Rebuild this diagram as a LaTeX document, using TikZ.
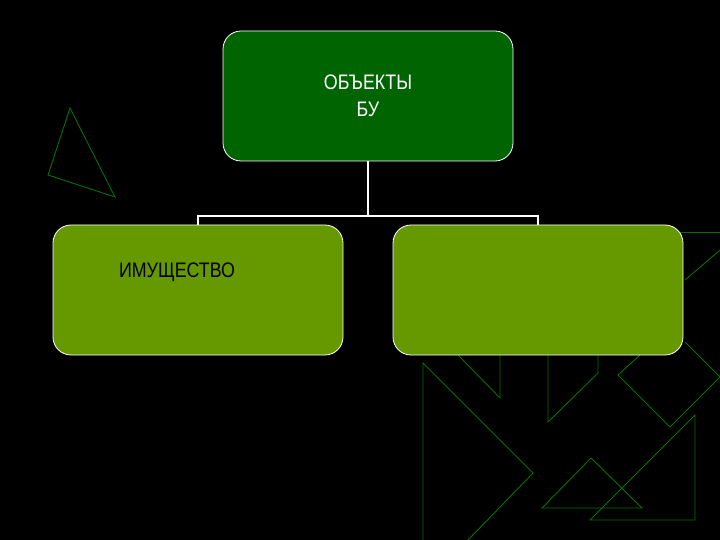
\documentclass[tikz,border=0pt]{standalone}
\usepackage{fontspec}
\setmainfont{Liberation Sans}
\begin{document}
\begin{tikzpicture}[x=1pt,y=-1pt,
  deco/.style={draw=green!45!black,line width=0.9pt},
  box/.style={draw=white,line width=0.8pt,rounded corners=18pt,minimum width=290pt,minimum height=130pt},
  conn/.style={draw=white,line width=1.5pt},
  lbl/.style={font=\fontsize{21}{27}\selectfont,xscale=0.85}]
\fill[black] (0,0) rectangle (720,540);
\useasboundingbox (0,0) rectangle (720,540);
% decorations
\draw[deco] (70,108) -- (48,175) -- (115,197) -- cycle;
\draw[deco] (423,540) -- (423,363) -- (533,473) -- (468,540);
\draw[deco] (458,355) -- (500,398) -- (500,355);
\draw[deco] (548,355) -- (548,422) -- (598,373) -- (598,355);
\draw[deco] (640,355) -- (618,375) -- (670,427) -- (720,377) -- (685,342);
\draw[deco] (542,508) -- (591,458) -- (642,508) -- cycle;
\draw[deco] (590,520) -- (695,415) -- (695,520) -- cycle;
\draw[deco] (680,232) -- (720,232);
\draw[deco] (685,280) -- (720,250);
% boxes
\node[box,fill={rgb,255:red,0;green,100;blue,0}] (top) at (368,96) {};
\node[box,fill={rgb,255:red,102;green,153;blue,0}] (left) at (198,290) {};
\node[box,fill={rgb,255:red,102;green,153;blue,0}] (right) at (538,290) {};
\node[lbl,text=white,align=center] (toptxt) at (368,96) {ОБЪЕКТЫ\\БУ};
\node[lbl,text=black,anchor=west] (lefttxt) at (116,272) {ИМУЩЕСТВО};
% connectors
\coordinate (j) at (368,216);
\draw[conn] (top.south) -- (j);
\draw[conn] (left.north) -- (198,216) -- (538,216) -- (right.north);
\end{tikzpicture}
\end{document}
